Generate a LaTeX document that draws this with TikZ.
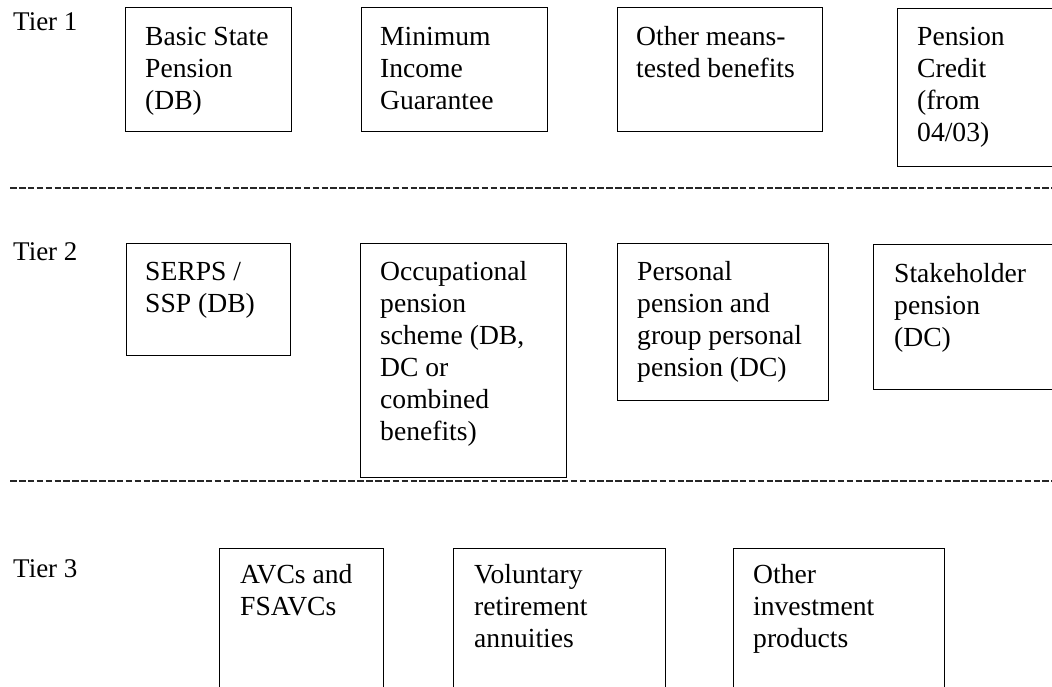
\documentclass[tikz,border=0pt]{standalone}
\usepackage{fontspec}
\setmainfont{Liberation Serif}
\usetikzlibrary{calc}
\tikzset{
  pbox/.style={draw=black, line width=1.4pt, anchor=north west, inner sep=0pt},
  ptxt/.style={anchor=north west, inner sep=0pt, align=left, font=\fontsize{27.6}{32}\selectfont},
  tierlbl/.style={anchor=base west, inner sep=0pt, font=\fontsize{27}{32}\selectfont},
  sep/.style={line width=1.8pt, dash pattern=on 6.6pt off 2.3pt, color=black!85}
}
\newcommand{\fl}{\rule{0pt}{24pt}}
\begin{document}
\begin{tikzpicture}[x=1pt,y=-1pt]
\useasboundingbox (0,0) rectangle (1052,686);
\clip (0,0) rectangle (1052,686);
% tier labels
\node[tierlbl] (tier1) at (13,30) {Tier 1};
\node[tierlbl] (tier2) at (13,260) {Tier 2};
\node[tierlbl] (tier3) at (13,577) {Tier 3};
% separators
\coordinate (s1a) at (10,188);
\coordinate (s1b) at (1052,188);
\coordinate (s2a) at (10,481);
\coordinate (s2b) at (1052,481);
\draw[sep] (s1a) -- (s1b);
\draw[sep] (s2a) -- (s2b);
% tier 1
\node[pbox, minimum width=166pt, minimum height=124pt] (b11) at (125,7) {};
\node[ptxt] (t11) at ($(b11.north west)+(20,14)$) {\fl Basic State\\Pension\\(DB)};
\node[pbox, minimum width=186pt, minimum height=124pt] (b12) at (361,7) {};
\node[ptxt] (t12) at ($(b12.north west)+(19,14)$) {\fl Minimum\\Income\\Guarantee};
\node[pbox, minimum width=205pt, minimum height=124pt] (b13) at (617,7) {};
\node[ptxt] (t13) at ($(b13.north west)+(19,14)$) {\fl Other means-\\tested benefits};
\node[pbox, minimum width=170pt, minimum height=158pt] (b14) at (897,8) {};
\node[ptxt] (t14) at ($(b14.north west)+(20,13)$) {\fl Pension\\Credit\\(from\\04/03)};
% tier 2
\node[pbox, minimum width=164pt, minimum height=112pt] (b21) at (126,243) {};
\node[ptxt] (t21) at ($(b21.north west)+(19,13)$) {\fl SERPS /\\SSP (DB)};
\node[pbox, minimum width=206pt, minimum height=234pt] (b22) at (360,243) {};
\node[ptxt] (t22) at ($(b22.north west)+(20,13)$) {\fl Occupational\\pension\\scheme (DB,\\DC or\\combined\\benefits)};
\node[pbox, minimum width=211pt, minimum height=157pt] (b23) at (617,243) {};
\node[ptxt] (t23) at ($(b23.north west)+(20,13)$) {\fl Personal\\pension and\\group personal\\pension (DC)};
\node[pbox, minimum width=200pt, minimum height=145pt] (b24) at (873,244) {};
\node[ptxt] (t24) at ($(b24.north west)+(21,14)$) {\fl Stakeholder\\pension\\(DC)};
% tier 3
\node[pbox, minimum width=164pt, minimum height=160pt] (b31) at (219,548) {};
\node[ptxt] (t31) at ($(b31.north west)+(21,11)$) {\fl AVCs and\\FSAVCs};
\node[pbox, minimum width=212pt, minimum height=160pt] (b32) at (453,548) {};
\node[ptxt] (t32) at ($(b32.north west)+(21,11)$) {\fl Voluntary\\retirement\\annuities};
\node[pbox, minimum width=211pt, minimum height=160pt] (b33) at (733,548) {};
\node[ptxt] (t33) at ($(b33.north west)+(20,11)$) {\fl Other\\investment\\products};
\end{tikzpicture}
\end{document}
